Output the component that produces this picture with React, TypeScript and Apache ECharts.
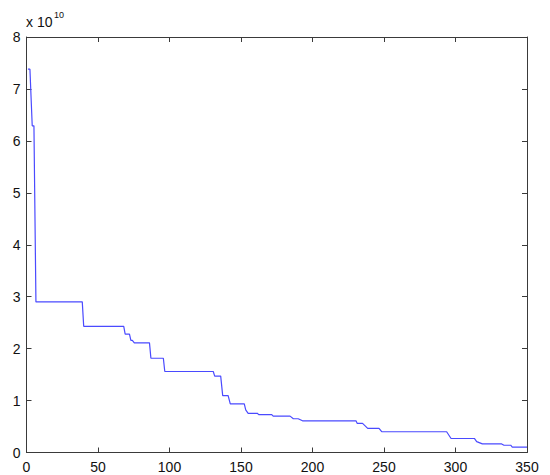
import React, { useEffect, useRef } from "react";
import * as echarts from "echarts";

// x (index) and y (value, in units of 1e10) of the staircase
const xs = [1, 2.4, 4, 5.2, 6.6, 39, 40, 68, 69, 72, 73, 74, 75.4, 86, 87, 95.7, 96.7, 130.6, 131.6, 135.8, 137.2, 141, 142.5, 152.3, 153.3, 155, 161.4, 162.4, 171.5, 172.5, 184.3, 186.6, 190, 193, 230.4, 231.3, 235, 238.6, 246.5, 248.4, 293.8, 296.9, 313.2, 314.8, 318.8, 332.3, 333.9, 338.6, 339.7, 350];
const ys = [7.38, 7.38, 6.29, 6.29, 2.9, 2.9, 2.43, 2.43, 2.28, 2.28, 2.16, 2.16, 2.11, 2.11, 1.815, 1.815, 1.56, 1.56, 1.47, 1.47, 1.095, 1.095, 0.935, 0.935, 0.82, 0.755, 0.755, 0.73, 0.73, 0.7, 0.7, 0.65, 0.65, 0.61, 0.61, 0.56, 0.56, 0.465, 0.465, 0.4, 0.4, 0.27, 0.27, 0.21, 0.165, 0.165, 0.14, 0.14, 0.105, 0.105];
const xTicks = [0, 50, 100, 150, 200, 250, 300, 350];
const yTicks = [0, 1, 2, 3, 4, 5, 6, 7, 8];

export default function App() {
  const ref = useRef<HTMLDivElement>(null);
  useEffect(() => {
    const chart = echarts.init(ref.current!, null, { renderer: "svg" });
    const font = "Liberation Sans, Arial, Helvetica, sans-serif";
    const axisColor = "#3a3a3a";
    const baseX = {
      type: "value" as const,
      min: xTicks[0],
      max: xTicks[xTicks.length - 1],
      interval: 50,
      splitLine: { show: false },
      axisLine: { show: true, onZero: false, lineStyle: { color: axisColor, width: 1 } },
      axisTick: { show: true, inside: true, length: 5, lineStyle: { color: axisColor } },
    };
    const baseY = {
      type: "value" as const,
      min: yTicks[0],
      max: yTicks[yTicks.length - 1],
      interval: 1,
      splitLine: { show: false },
      axisLine: { show: true, onZero: false, lineStyle: { color: axisColor, width: 1 } },
      axisTick: { show: true, inside: true, length: 5, lineStyle: { color: axisColor } },
    };
    chart.setOption({
      animation: false,
      backgroundColor: "#ffffff",
      grid: { left: 26.5, right: 23, top: 37, bottom: 22.5, containLabel: false },
      xAxis: [
        {
          ...baseX,
          position: "bottom",
          axisLabel: { show: true, color: "#111", fontSize: 14, fontFamily: font, margin: 7, showMaxLabel: true, showMinLabel: true },
        },
        { ...baseX, position: "top", axisLabel: { show: false } },
      ],
      yAxis: [
        {
          ...baseY,
          position: "left",
          axisLabel: { show: true, color: "#111", fontSize: 14, fontFamily: font, margin: 6, showMaxLabel: true, showMinLabel: true },
        },
        { ...baseY, position: "right", axisLabel: { show: false } },
      ],
      graphic: [
        { type: "text", x: 26, y: 15, style: { text: "x 10", fontSize: 14, fontFamily: font, fill: "#111", verticalAlign: "top" } },
        { type: "text", x: 54, y: 10, style: { text: "10", fontSize: 9, fontFamily: font, fill: "#111", verticalAlign: "top" } },
      ],
      series: [
        {
          type: "line",
          xAxisIndex: 0,
          yAxisIndex: 0,
          data: xs.map((x, i) => [x, ys[i]]),
          showSymbol: false,
          symbol: "none",
          lineStyle: { color: "#4a4aff", width: 1.2 },
        },
      ],
    });
    return () => chart.dispose();
  }, []);
  return <div ref={ref} style={{ position: "fixed", left: 0, top: 0, width: 550, height: 475 }} />;
}
